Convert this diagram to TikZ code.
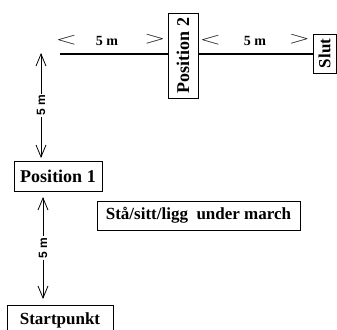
\documentclass[tikz,border=0pt]{standalone}
\usepackage{fontspec}
\setmainfont{Liberation Serif}
\setsansfont{Liberation Sans}
\usetikzlibrary{arrows.meta}

\begin{document}
\begin{tikzpicture}[x=1pt,y=1pt]
  \tikzstyle{BoxStyle}=[draw,line width=0.9pt,inner sep=0pt,
                        font=\fontsize{17}{20}\selectfont\bfseries]
  \tikzstyle{PosStyle}=[BoxStyle,font=\fontsize{18}{21}\selectfont\bfseries]
  \tikzstyle{MarkStyle}=[inner sep=0pt,font=\fontsize{16}{18}\selectfont,
                         xscale=1.6,transform shape]
  \tikzstyle{LenStyle}=[inner sep=0pt,font=\fontsize{14}{16}\selectfont\bfseries]
  \tikzstyle{VLenStyle}=[fill=white,inner sep=1.5pt,rotate=90,
                         font=\fontsize{12}{14}\selectfont\sffamily\bfseries]
  \tikzstyle{DistStyle}=[line width=0.8pt,
                         {Straight Barb[length=12pt,width=10pt]}-{Straight Barb[length=12pt,width=10pt]}]
  \useasboundingbox (0,0) rectangle (337,-329);
  % boxes
  \node[PosStyle,rotate=90,minimum width=85,minimum height=30] (pos2) at (183,-55.5) {Position 2};
  \node[BoxStyle,rotate=90,minimum width=39,minimum height=23] (slut) at (324.5,-53.5) {Slut};
  \node[PosStyle,minimum width=88,minimum height=30] (pos1) at (58,-176) {Position 1};
  \node[BoxStyle,minimum width=203,minimum height=29] (march) at (198.5,-215.5) {Stå/sitt/ligg\ \ under march};
  \node[BoxStyle,minimum width=106,minimum height=30] (start) at (60,-320) {Startpunkt};
  % top line
  \coordinate (lstart) at (60,-54);
  \draw[line width=2.6pt] (lstart) -- (lstart -| pos2.north);
  \draw[line width=2.6pt] (lstart -| pos2.south) -- (lstart -| slut.north);
  \node[MarkStyle] (lt1) at (66.5,-40.5) {$<$};
  \node[LenStyle] (len1) at (107,-40.5) {5 m};
  \node[MarkStyle] (gt1) at (155,-39.5) {$>$};
  \node[MarkStyle] (lt2) at (210.5,-40) {$<$};
  \node[LenStyle] (len2) at (255,-40.5) {5 m};
  \node[MarkStyle] (gt2) at (299.5,-39.5) {$>$};
  % distances
  \coordinate (d1top) at (41,-53);
  \coordinate (d1bot) at (41,-158);
  \coordinate (d2top) at (43,-197);
  \coordinate (d2bot) at (43,-299);
  \draw[DistStyle] (d1top) -- node[VLenStyle] (vlen1) {5 m} (d1bot);
  \draw[DistStyle] (d2top) -- node[VLenStyle] (vlen2) {5 m} (d2bot);
\end{tikzpicture}
\end{document}
